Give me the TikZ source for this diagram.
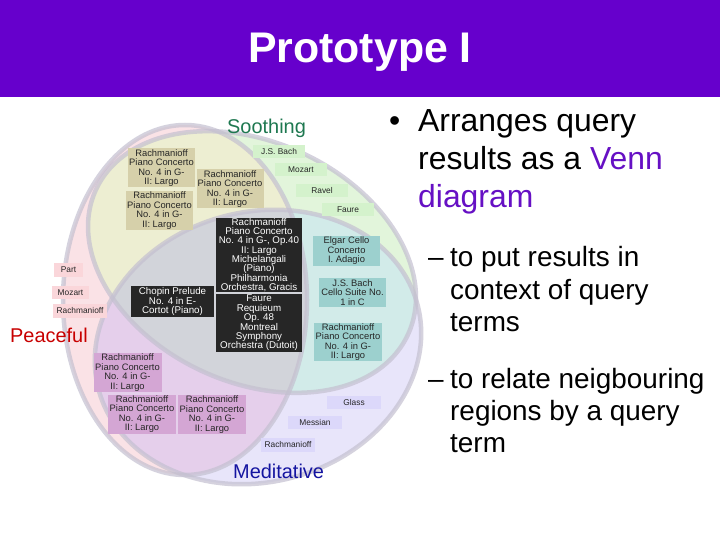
\documentclass[tikz,border=0pt]{standalone}
\usepackage{fontspec}
\setmainfont{Liberation Sans}
\usepackage{tikz}

\definecolor{titlebar}{RGB}{102,0,204}
\definecolor{venn}{RGB}{102,16,196}
\definecolor{pinkreg}{RGB}{250,226,230}
\definecolor{greenreg}{RGB}{226,245,219}
\definecolor{lavreg}{RGB}{232,229,250}
\definecolor{yelreg}{RGB}{237,238,210}
\definecolor{tealreg}{RGB}{210,235,233}
\definecolor{mauvereg}{RGB}{229,207,235}
\definecolor{grayreg}{RGB}{210,212,218}
\definecolor{ringcol}{RGB}{196,192,208}
\definecolor{beigebox}{RGB}{214,208,170}
\definecolor{greenbox}{RGB}{212,242,204}
\definecolor{blackbox}{RGB}{38,38,38}
\definecolor{tealbox}{RGB}{156,208,206}
\definecolor{mauvebox}{RGB}{212,166,212}
\definecolor{lavbox}{RGB}{220,216,250}
\definecolor{pinkbox}{RGB}{250,214,218}
\definecolor{soothingc}{RGB}{30,120,80}
\definecolor{peacefulc}{RGB}{200,0,0}
\definecolor{meditativec}{RGB}{20,20,160}

\def\peacefulpath{(185,300) ellipse [x radius=122, y radius=175]}
\def\soothingpath{(252,262) ellipse [x radius=172, y radius=120]}
\def\meditativepath{(258,347) ellipse [x radius=165, y radius=135]}
\def\boxfont{\fontsize{9.4}{9.5}\selectfont}
\def\tagfont{\fontsize{8.4}{9}\selectfont}

\tikzset{
  soothrot/.style={rotate around={-25:(252,262)}},
  medrot/.style={rotate around={15:(258,347)}},
  ring/.style={draw=ringcol, draw opacity=.7, line width=4.5bp},
  box/.style={inner sep=0pt, align=center, text=black!85, font=\boxfont},
  beige/.style={box, fill=beigebox, minimum width=67bp, minimum height=39bp},
  teal/.style={box, fill=tealbox, minimum width=67bp},
  mauve/.style={box, fill=mauvebox, minimum width=68bp, minimum height=39bp},
  dark/.style={box, fill=blackbox, text=white, minimum width=86bp,
    font=\fontsize{9.8}{9.4}\selectfont},
  tag/.style={box, font=\tagfont, minimum height=13bp, minimum width=54bp},
  term/.style={anchor=base west, inner sep=0pt, font=\fontsize{20}{24}\selectfont},
  bodytext/.style={anchor=base west, inner sep=0pt, font=\fontsize{32}{38}\selectfont},
  subtext/.style={anchor=base west, inner sep=0pt, font=\fontsize{28}{32}\selectfont}
}

\begin{document}
\begin{tikzpicture}[x=1bp, y=-1bp]
		%%%%% START %%%%%
		\useasboundingbox[fill=white] (0,0) rectangle (720,540);
		
		\fill[titlebar] (0,0) rectangle (720,97);
		\node[anchor=base, inner sep=0pt, text=white, font=\fontsize{43}{50}\selectfont\bfseries] (title) at (360,63) {Prototype I};
		
		% venn regions
		\fill[pinkreg] \peacefulpath;
		\fill[greenreg, soothrot] \soothingpath;
		\fill[lavreg, medrot] \meditativepath;
		\begin{scope}
			\clip \peacefulpath;
			\fill[yelreg, soothrot] \soothingpath;
			\fill[mauvereg, medrot] \meditativepath;
		\end{scope}
		\begin{scope}
			\clip[soothrot] \soothingpath;
			\fill[tealreg, medrot] \meditativepath;
		\end{scope}
		\begin{scope}
			\clip \peacefulpath;
			\clip[soothrot] \soothingpath;
			\fill[grayreg, medrot] \meditativepath;
		\end{scope}
		\draw[ring] \peacefulpath;
		\draw[ring, soothrot] \soothingpath;
		\draw[ring, medrot] \meditativepath;
		
		\node[term, text=soothingc] (soothing) at (227,134) {Soothing};
		\node[term, text=peacefulc] (peaceful) at (10,342) {Peaceful};
		\node[term, text=meditativec] (meditative) at (233,478) {Meditative};
		
		% peaceful + soothing
		\node[beige] (pc1) at (161.5,168) {Rachmanioff\\Piano Concerto\\No. 4 in G-\\II: Largo};
		\node[beige] (pc2) at (159.5,210.5) {Rachmanioff\\Piano Concerto\\No. 4 in G-\\II: Largo};
		\node[beige] (pc3) at (230,189) {Rachmanioff\\Piano Concerto\\No. 4 in G-\\II: Largo};
		
		% soothing only
		\node[tag, fill=greenbox, minimum width=52bp] (jsbach) at (279,151.5) {J.S. Bach};
		\node[tag, fill=greenbox, minimum width=52bp] (mozart) at (301,170) {Mozart};
		\node[tag, fill=greenbox, minimum width=52bp] (ravel) at (322,191) {Ravel};
		\node[tag, fill=greenbox, minimum width=52bp] (faure) at (348,210) {Faure};
		
		% all three
		\node[dark, minimum height=74bp] (rachop) at (259,255) {Rachmanioff\\Piano Concerto\\No. 4 in G-, Op.40\\II: Largo\\Michelangali\\(Piano)\\Philharmonia\\Orchestra, Gracis};
		\node[dark, minimum height=58bp] (requiem) at (259,323) {Faure\\Requieum\\Op. 48\\Montreal\\Symphony\\Orchestra (Dutoit)};
		\node[dark, minimum width=83bp, minimum height=31bp] (chopin) at (172.5,301.5) {Chopin Prelude\\No. 4 in E-\\Cortot (Piano)};
		
		% soothing + meditative
		\node[teal, minimum height=30bp] (elgar) at (346.5,251) {Elgar Cello\\Concerto\\I. Adagio};
		\node[teal, minimum height=29bp] (cello) at (352.5,292.5) {J.S. Bach\\Cello Suite No.\\1 in C};
		\node[teal, minimum width=68bp, minimum height=38bp] (sm1) at (348,342) {Rachmanioff\\Piano Concerto\\No. 4 in G-\\II: Largo};
		
		% peaceful + meditative
		\node[mauve] (pm1) at (127.5,372.5) {Rachmanioff\\Piano Concerto\\No. 4 in G-\\II: Largo};
		\node[mauve] (pm2) at (142,414) {Rachmanioff\\Piano Concerto\\No. 4 in G-\\II: Largo};
		\node[mauve] (pm3) at (212,414.5) {Rachmanioff\\Piano Concerto\\No. 4 in G-\\II: Largo};
		
		% meditative only
		\node[tag, fill=lavbox] (glass) at (354,402.5) {Glass};
		\node[tag, fill=lavbox] (messian) at (315,422.5) {Messian};
		\node[tag, fill=lavbox, minimum height=14bp] (medrach) at (288,445) {Rachmanioff};
		
		% peaceful only
		\node[tag, fill=pinkbox, minimum width=29bp] (part) at (68.5,270) {Part};
		\node[tag, fill=pinkbox, minimum width=37bp] (pmozart) at (70.5,292.5) {Mozart};
		\node[tag, fill=pinkbox, minimum height=14bp] (prach) at (80,311) {Rachmanioff};
		
		% bullets
		\node[bodytext] (dot) at (389,132) {•};
		\node[bodytext] (arr1) at (418,132) {Arranges query};
		\node[bodytext] (arr2) at (418,170) {results as a \textcolor{venn}{Venn}};
		\node[bodytext] (arr3) at (418,208) {\textcolor{venn}{diagram}};
		
		\node[subtext] (dash1) at (428,267) {–};
		\node[subtext] (ctx1) at (450,267) {to put results in};
		\node[subtext] (ctx2) at (450,299) {context of query};
		\node[subtext] (ctx3) at (450,331) {terms};
		
		\node[subtext] (dash2) at (428,388) {–};
		\node[subtext] (rel1) at (450,388) {to relate neigbouring};
		\node[subtext] (rel2) at (450,420) {regions by a query};
		\node[subtext] (rel3) at (450,452) {term};
		%%%%% END %%%%%
	\end{tikzpicture}
\end{document}
